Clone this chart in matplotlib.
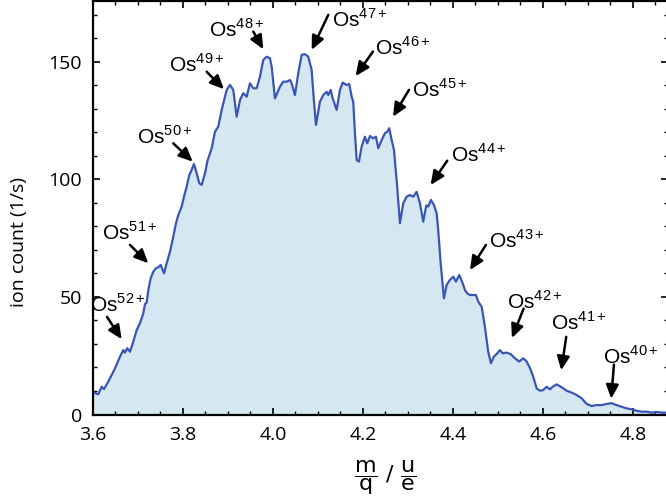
import numpy as np
import matplotlib
matplotlib.use('Agg')
import matplotlib.pyplot as plt
from matplotlib.ticker import MultipleLocator

plt.rcParams['font.family'] = ['Open Sans', 'DejaVu Sans']
plt.rcParams['mathtext.fontset'] = 'custom'
plt.rcParams['mathtext.rm'] = 'Liberation Sans'

# spectrum (m/q in u/e, ion count in 1/s)
mq = [3.6007, 3.6118, 3.6193, 3.6244, 3.6340, 3.6416, 3.6489, 3.6600, 3.6673, 3.6711,
      3.6762, 3.6822, 3.6896, 3.6971, 3.7044, 3.7118, 3.7156, 3.7193, 3.7229, 3.7282,
      3.7340, 3.7400, 3.7451, 3.7504, 3.7549, 3.7578, 3.7638, 3.7711, 3.7784, 3.7844,
      3.7896, 3.7971, 3.8022, 3.8082, 3.8140, 3.8193, 3.8244, 3.8304, 3.8362, 3.8416,
      3.8489, 3.8544, 3.8638, 3.8711, 3.8784, 3.8860, 3.8933, 3.8971, 3.9044, 3.9118,
      3.9193, 3.9267, 3.9340, 3.9416, 3.9489, 3.9562, 3.9638, 3.9711, 3.9784, 3.9860,
      3.9933, 3.9971, 4.0044, 4.0156, 4.0229, 4.0304, 4.0378, 4.0416, 4.0489, 4.0562,
      4.0638, 4.0711, 4.0784, 4.0860, 4.0900, 4.0956, 4.1044, 4.1118, 4.1193, 4.1229,
      4.1282, 4.1327, 4.1416, 4.1489, 4.1549, 4.1638, 4.1696, 4.1749, 4.1784, 4.1822,
      4.1860, 4.1911, 4.1971, 4.2044, 4.2096, 4.2156, 4.2229, 4.2289, 4.2340, 4.2416,
      4.2489, 4.2540, 4.2584, 4.2638, 4.2689, 4.2749, 4.2822, 4.2896, 4.2971, 4.3044,
      4.3118, 4.3193, 4.3267, 4.3340, 4.3407, 4.3451, 4.3511, 4.3578, 4.3638, 4.3673,
      4.3727, 4.3800, 4.3860, 4.3933, 4.4007, 4.4067, 4.4140, 4.4216, 4.4267, 4.4318,
      4.4378, 4.4451, 4.4511, 4.4562, 4.4638, 4.4711, 4.4784, 4.4844, 4.4911, 4.4984,
      4.5044, 4.5104, 4.5193, 4.5282, 4.5378, 4.5473, 4.5562, 4.5638, 4.5711, 4.5784,
      4.5860, 4.5933, 4.6007, 4.6082, 4.6156, 4.6216, 4.6304, 4.6416, 4.6527, 4.6638,
      4.6749, 4.6860, 4.6971, 4.7082, 4.7193, 4.7304, 4.7416, 4.7527, 4.7638, 4.7749,
      4.7860, 4.7971, 4.8082, 4.8193, 4.8304, 4.8416, 4.8527, 4.8638, 4.8780]
counts = [9.4, 8.6, 11.8, 10.8, 14.0, 16.8, 19.6, 24.6, 27.4, 26.3,
          28.2, 26.7, 31.0, 35.9, 38.8, 43.0, 47.0, 47.5, 52.9, 57.9,
          60.7, 62.2, 62.6, 63.6, 61.4, 60.0, 64.3, 69.2, 75.6, 81.3,
          84.8, 88.4, 92.6, 96.9, 101.8, 104.0, 106.5, 102.6, 98.3, 97.6,
          102.6, 107.8, 113.2, 120.2, 122.4, 129.5, 135.1, 138.0, 140.1, 138.0,
          126.6, 133.7, 136.6, 135.1, 140.8, 138.7, 138.7, 143.6, 150.7, 152.1,
          151.5, 147.9, 134.4, 139.4, 141.5, 141.5, 142.2, 140.8, 135.8, 145.1,
          152.9, 153.2, 152.1, 146.5, 135.8, 123.1, 133.0, 135.8, 137.2, 135.8,
          138.0, 134.4, 129.5, 138.0, 141.1, 140.1, 140.5, 135.1, 133.0, 119.6,
          108.2, 107.5, 113.9, 118.1, 115.3, 118.4, 117.4, 118.1, 113.2, 116.7,
          119.6, 120.2, 121.7, 116.7, 112.5, 99.7, 81.3, 89.8, 92.6, 93.3,
          92.6, 94.7, 89.8, 82.0, 88.9, 88.4, 91.2, 89.1, 85.5, 78.4,
          64.3, 49.4, 55.1, 57.2, 58.6, 56.5, 59.3, 55.8, 52.9, 51.5,
          50.8, 50.8, 50.8, 48.0, 45.8, 37.3, 26.7, 21.8, 24.6, 26.0,
          27.4, 26.0, 26.3, 25.7, 23.9, 22.5, 23.9, 22.5, 19.8, 16.1,
          11.1, 10.1, 10.4, 11.8, 10.7, 11.8, 12.8, 11.6, 10.1, 9.3,
          8.3, 6.9, 4.5, 3.6, 4.0, 4.0, 4.5, 4.8, 4.0, 3.3,
          2.6, 2.2, 1.6, 1.2, 1.2, 0.8, 1.1, 0.8, 0.8]

# charge state labels: text position (baseline), arrow tail, arrow tip
labels = ['52', '51', '50', '49', '48', '47', '46', '45', '44', '43', '42', '41', '40']
text_x = [3.6544, 3.6822, 3.7600, 3.8300, 3.9189, 4.1933, 4.2878, 4.3700, 4.4567, 4.5433, 4.5833, 4.6811, 4.7967]
text_y = [43.6, 74.2, 115.3, 145.7, 160.6, 164.8, 152.8, 135.0, 107.4, 70.8, 44.9, 35.9, 21.5]
tail_x = [3.6311, 3.6822, 3.7784, 3.8527, 3.9562, 4.1229, 4.2222, 4.3022, 4.3873, 4.4733, 4.5571, 4.6518, 4.7578]
tail_y = [41.5, 72.1, 115.3, 145.7, 162.8, 169.9, 154.3, 138.0, 107.9, 72.1, 45.0, 33.0, 21.2]
tip_x = [3.6638, 3.7229, 3.8216, 3.8911, 3.9784, 4.0860, 4.1838, 4.2667, 4.3504, 4.4378, 4.5311, 4.6407, 4.7518]
tip_y = [32.0, 64.3, 107.5, 138.3, 155.3, 155.0, 143.9, 126.6, 97.6, 61.4, 32.5, 18.8, 6.7]

fig = plt.figure(figsize=(6.66, 5.04), dpi=100)
ax = fig.add_axes([93/666, 1 - 414.5/504, 575/666, 413.5/504])

ax.fill_between(mq, counts, 0, color='#d5e7f1', lw=0)
ax.plot(mq, counts, color='#3b55b5', lw=1.6)

for lab, tx, ty, ax0, ay0, ax1, ay1 in zip(labels, text_x, text_y, tail_x, tail_y, tip_x, tip_y):
    ax.text(tx, ty, r'Os$^{\mathregular{%s+}}$' % lab, ha='center', va='baseline',
            fontsize=15, family='Liberation Sans')
    ax.annotate('', xy=(ax1, ay1), xytext=(ax0, ay0),
                arrowprops=dict(arrowstyle='-|>,head_length=0.55,head_width=0.25',
                                color='k', lw=1.8, mutation_scale=15,
                                shrinkA=0, shrinkB=0))

ax.set_xlim(3.6, 4.878)
ax.set_ylim(0, 175.8)
ax.xaxis.set_major_locator(MultipleLocator(0.2))
ax.xaxis.set_minor_locator(MultipleLocator(0.05))
ax.yaxis.set_major_locator(MultipleLocator(50))
ax.yaxis.set_minor_locator(MultipleLocator(10))
ax.xaxis.set_major_formatter(plt.FuncFormatter(lambda v, p: '%.1f' % v))
ax.tick_params(which='both', direction='in', top=True, right=True, labelsize=14, pad=8)
ax.tick_params(which='major', length=5, width=1.2)
ax.tick_params(which='minor', length=3, width=1)
for s in ax.spines.values():
    s.set_linewidth(1.6)

ax.set_ylabel('ion count (1/s)', fontsize=14)
ax.yaxis.set_label_coords(-0.113, 0.417)
fig.text(0.578, 0.053, r'$\dfrac{\mathrm{m}}{\mathrm{q}}\ /\ \dfrac{\mathrm{u}}{\mathrm{e}}$',
         ha='center', va='center', fontsize=16, math_fontfamily='dejavusans')

fig.savefig('out.png', dpi=100)
